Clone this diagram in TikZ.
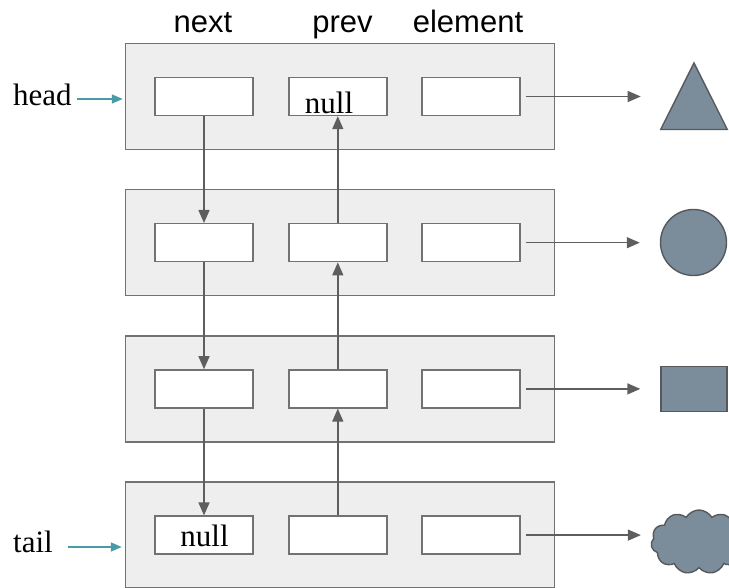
\documentclass[tikz,border=0pt]{standalone}
\usepackage{fontspec}
\setmainfont{Liberation Serif}
\newfontfamily\hdrfont{Liberation Sans}
\usetikzlibrary{shapes.geometric,shapes.symbols,arrows.meta}

\definecolor{boxfill}{HTML}{EEEEEE}
\definecolor{boxline}{HTML}{727272}
\definecolor{arrline}{HTML}{5E5E5E}
\definecolor{shapefill}{HTML}{7B8D9A}
\definecolor{shapeline}{HTML}{55595D}
\definecolor{pointer}{HTML}{4A9BAA}

\tikzset{
  nodebox/.style={draw=boxline, fill=boxfill, line width=1.4pt,
    minimum width=429pt, minimum height=106pt, inner sep=0pt},
  fieldbox/.style={draw=boxline, fill=white, line width=1.4pt,
    minimum width=98pt, minimum height=38pt, inner sep=0pt},
  link/.style={draw=arrline, line width=1.4pt,
    -{Triangle[length=13pt,width=11pt]}},
  ptr/.style={draw=pointer, line width=1.4pt,
    -{Triangle[length=11pt,width=9pt]}},
  item/.style={draw=shapeline, fill=shapefill, line width=1.4pt, inner sep=0pt},
  hdr/.style={font=\hdrfont\fontsize{31}{36}\selectfont, anchor=base, inner sep=0pt},
  lbl/.style={font=\fontsize{31}{36}\selectfont, anchor=base west, inner sep=0pt},
  nulltxt/.style={font=\fontsize{31}{36}\selectfont, anchor=base, inner sep=0pt}
}

\begin{document}
\begin{tikzpicture}[x=1pt,y=-1pt]
\useasboundingbox (0,0) rectangle (729,588);

% column headings
\node[hdr] (hnext) at (203,33) {next};
\node[hdr] (hprev) at (342.5,33) {prev};
\node[hdr] (helem) at (468,33) {element};

% list nodes with their three fields
\foreach \k/\y in {1/96.5, 2/242.7, 3/388.9, 4/535.1} {
  \node[nodebox] (r\k) at (340,\y) {};
  \node[fieldbox] (n\k) at (204,\y) {};
  \node[fieldbox] (p\k) at (337.8,\y) {};
  \node[fieldbox] (e\k) at (471,\y) {};
}

% null values
\node[nulltxt] (nullp) at (329,114) {null};
\node[nulltxt] (nulln) at (204.5,546) {null};

% next pointers (downwards) and prev pointers (upwards)
\foreach \a/\b in {1/2, 2/3, 3/4} {
  \draw[link] (n\a.south) -- (n\b.north);
  \draw[link] (p\b.north) -- (p\a.south);
}

% stored elements
\draw[item] (694,63) -- (727.3,129.5) -- (660.7,129.5) -- cycle;
\coordinate (tri) at (660.7,96.5);
\node[item, circle, minimum size=66pt] (circ) at (693.5,242.5) {};
\node[item, rectangle, minimum width=66pt, minimum height=44.5pt] (rect) at (694,389) {};
\node[item, cloud, cloud puffs=11, cloud puff arc=120, aspect=1.45,
      minimum width=96pt, minimum height=64pt] (cld) at (699,542) {};

\draw[link, shorten <=5pt] (e1.east) -- ([xshift=-20pt]tri);
\draw[link, shorten <=5pt, shorten >=20pt] (e2.east) -- (e2.east -| circ.west);
\draw[link, shorten <=5pt, shorten >=20pt] (e3.east) -- (e3.east -| rect.west);
\draw[link, shorten <=5pt, shorten >=10pt] (e4.east) -- (e4.east -| cld.west);

% head and tail references
\node[lbl] (head) at (13,106) {head};
\node[lbl] (tail) at (13,552) {tail};
\coordinate (hs) at (77,99);
\coordinate (ts) at (68,547);
\draw[ptr, shorten >=2pt] (hs) -- (hs -| r1.west);
\draw[ptr, shorten >=3pt] (ts) -- (ts -| r4.west);
\end{tikzpicture}
\end{document}
